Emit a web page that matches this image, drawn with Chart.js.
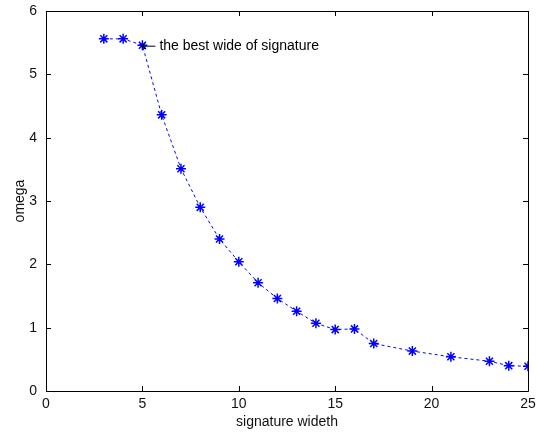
<!DOCTYPE html>
<html>
<head>
<meta charset="utf-8">
<script src="https://cdn.jsdelivr.net/npm/chart.js@4/dist/chart.umd.min.js"></script>
<style>
  html, body { margin: 0; padding: 0; background: #ffffff; }
  #wrap { width: 538px; height: 433px; position: relative; }
</style>
</head>
<body>
<div id="wrap"><canvas id="c" width="538" height="433"></canvas></div>
<script>
// ---- data ----
const widths = [3, 4, 5, 6, 7, 8, 9, 10, 11, 12, 13, 14, 15, 16, 17, 19, 21, 23, 24, 25];
const omega  = [5.56, 5.56, 5.46, 4.36, 3.51, 2.90, 2.40, 2.04, 1.71, 1.46, 1.26, 1.07, 0.97, 0.98, 0.75, 0.63, 0.54, 0.47, 0.40, 0.39];
const xTicks = [0, 5, 10, 15, 20, 25];
const yTicks = [0, 1, 2, 3, 4, 5, 6];
const annotationText = "the best wide of signature";
const annotationX = 5;
const annotationY = 5.46;
const xTitle = "signature wideth";
const yTitle = "omega";

const FONT = "'Liberation Sans', Arial, sans-serif";

const points = widths.map((w, i) => ({ x: w, y: omega[i] }));

const framePlugin = {
  id: 'frame',
  afterDraw(chart) {
    const ctx = chart.ctx;
    const a = chart.chartArea;
    const xs = chart.scales.x, ys = chart.scales.y;
    ctx.save();
    ctx.strokeStyle = '#000000';
    ctx.lineWidth = 1;
    ctx.beginPath();
    ctx.rect(Math.round(a.left) + 0.5, Math.round(a.top) + 0.5,
             Math.round(a.right - a.left), Math.round(a.bottom - a.top));
    ctx.stroke();
    const L = 5;
    ctx.beginPath();
    xTicks.forEach(v => {
      const px = Math.round(xs.getPixelForValue(v)) + 0.5;
      ctx.moveTo(px, a.bottom); ctx.lineTo(px, a.bottom - L);
      ctx.moveTo(px, a.top); ctx.lineTo(px, a.top + L);
    });
    yTicks.forEach(v => {
      const py = Math.round(ys.getPixelForValue(v)) + 0.5;
      ctx.moveTo(a.left, py); ctx.lineTo(a.left + L, py);
      ctx.moveTo(a.right, py); ctx.lineTo(a.right - L, py);
    });
    ctx.stroke();

    // annotation: left arrow + text
    const ax = xs.getPixelForValue(annotationX);
    const ay = ys.getPixelForValue(annotationY) + 1;
    ctx.beginPath();
    ctx.moveTo(ax - 1, ay); ctx.lineTo(ax + 13, ay);
    ctx.moveTo(ax - 1, ay); ctx.lineTo(ax + 3, ay - 3);
    ctx.moveTo(ax - 1, ay); ctx.lineTo(ax + 3, ay + 3);
    ctx.stroke();
    ctx.fillStyle = '#000000';
    ctx.font = "14px " + FONT;
    ctx.textBaseline = 'middle';
    ctx.textAlign = 'left';
    ctx.fillText(annotationText, ax + 17, ay);
    ctx.restore();
  }
};

new Chart(document.getElementById('c'), {
  type: 'line',
  data: {
    datasets: [{
      data: points,
      borderColor: '#0000ff',
      backgroundColor: '#0000ff',
      borderWidth: 1,
      borderDash: [3, 3],
      pointStyle: 'star',
      pointRadius: 5,
      pointHoverRadius: 5,
      pointBorderWidth: 1.5,
      pointBorderColor: '#0000ff',
      fill: false,
      tension: 0
    }]
  },
  options: {
    responsive: false,
    animation: false,
    events: [],
    layout: { padding: { top: 11, right: 10, left: 0, bottom: 0 } },
    plugins: { legend: { display: false }, tooltip: { enabled: false } },
    scales: {
      x: {
        type: 'linear',
        min: 0, max: 25,
        afterFit(s) { s.height = 42; s.paddingLeft = 0; s.paddingRight = 0; },
        afterBuildTicks(s) { s.ticks = xTicks.map(v => ({ value: v })); },
        grid: { display: false, drawTicks: false },
        border: { display: false },
        ticks: { color: '#111', padding: 5, maxRotation: 0, font: { family: FONT, size: 14 } },
        title: { display: true, text: xTitle, color: '#111', padding: { top: 0, bottom: 2 }, font: { family: FONT, size: 14 } }
      },
      y: {
        type: 'linear',
        min: 0, max: 6,
        afterFit(s) { s.width = 46; s.paddingTop = 0; s.paddingBottom = 0; },
        afterBuildTicks(s) { s.ticks = yTicks.map(v => ({ value: v })); },
        grid: { display: false, drawTicks: false },
        border: { display: false },
        ticks: { color: '#111', padding: 9, font: { family: FONT, size: 14 } },
        title: { display: true, text: yTitle, color: '#111', padding: { top: 12, bottom: 0 }, font: { family: FONT, size: 14 } }
      }
    }
  },
  plugins: [framePlugin]
});
</script>
</body>
</html>
